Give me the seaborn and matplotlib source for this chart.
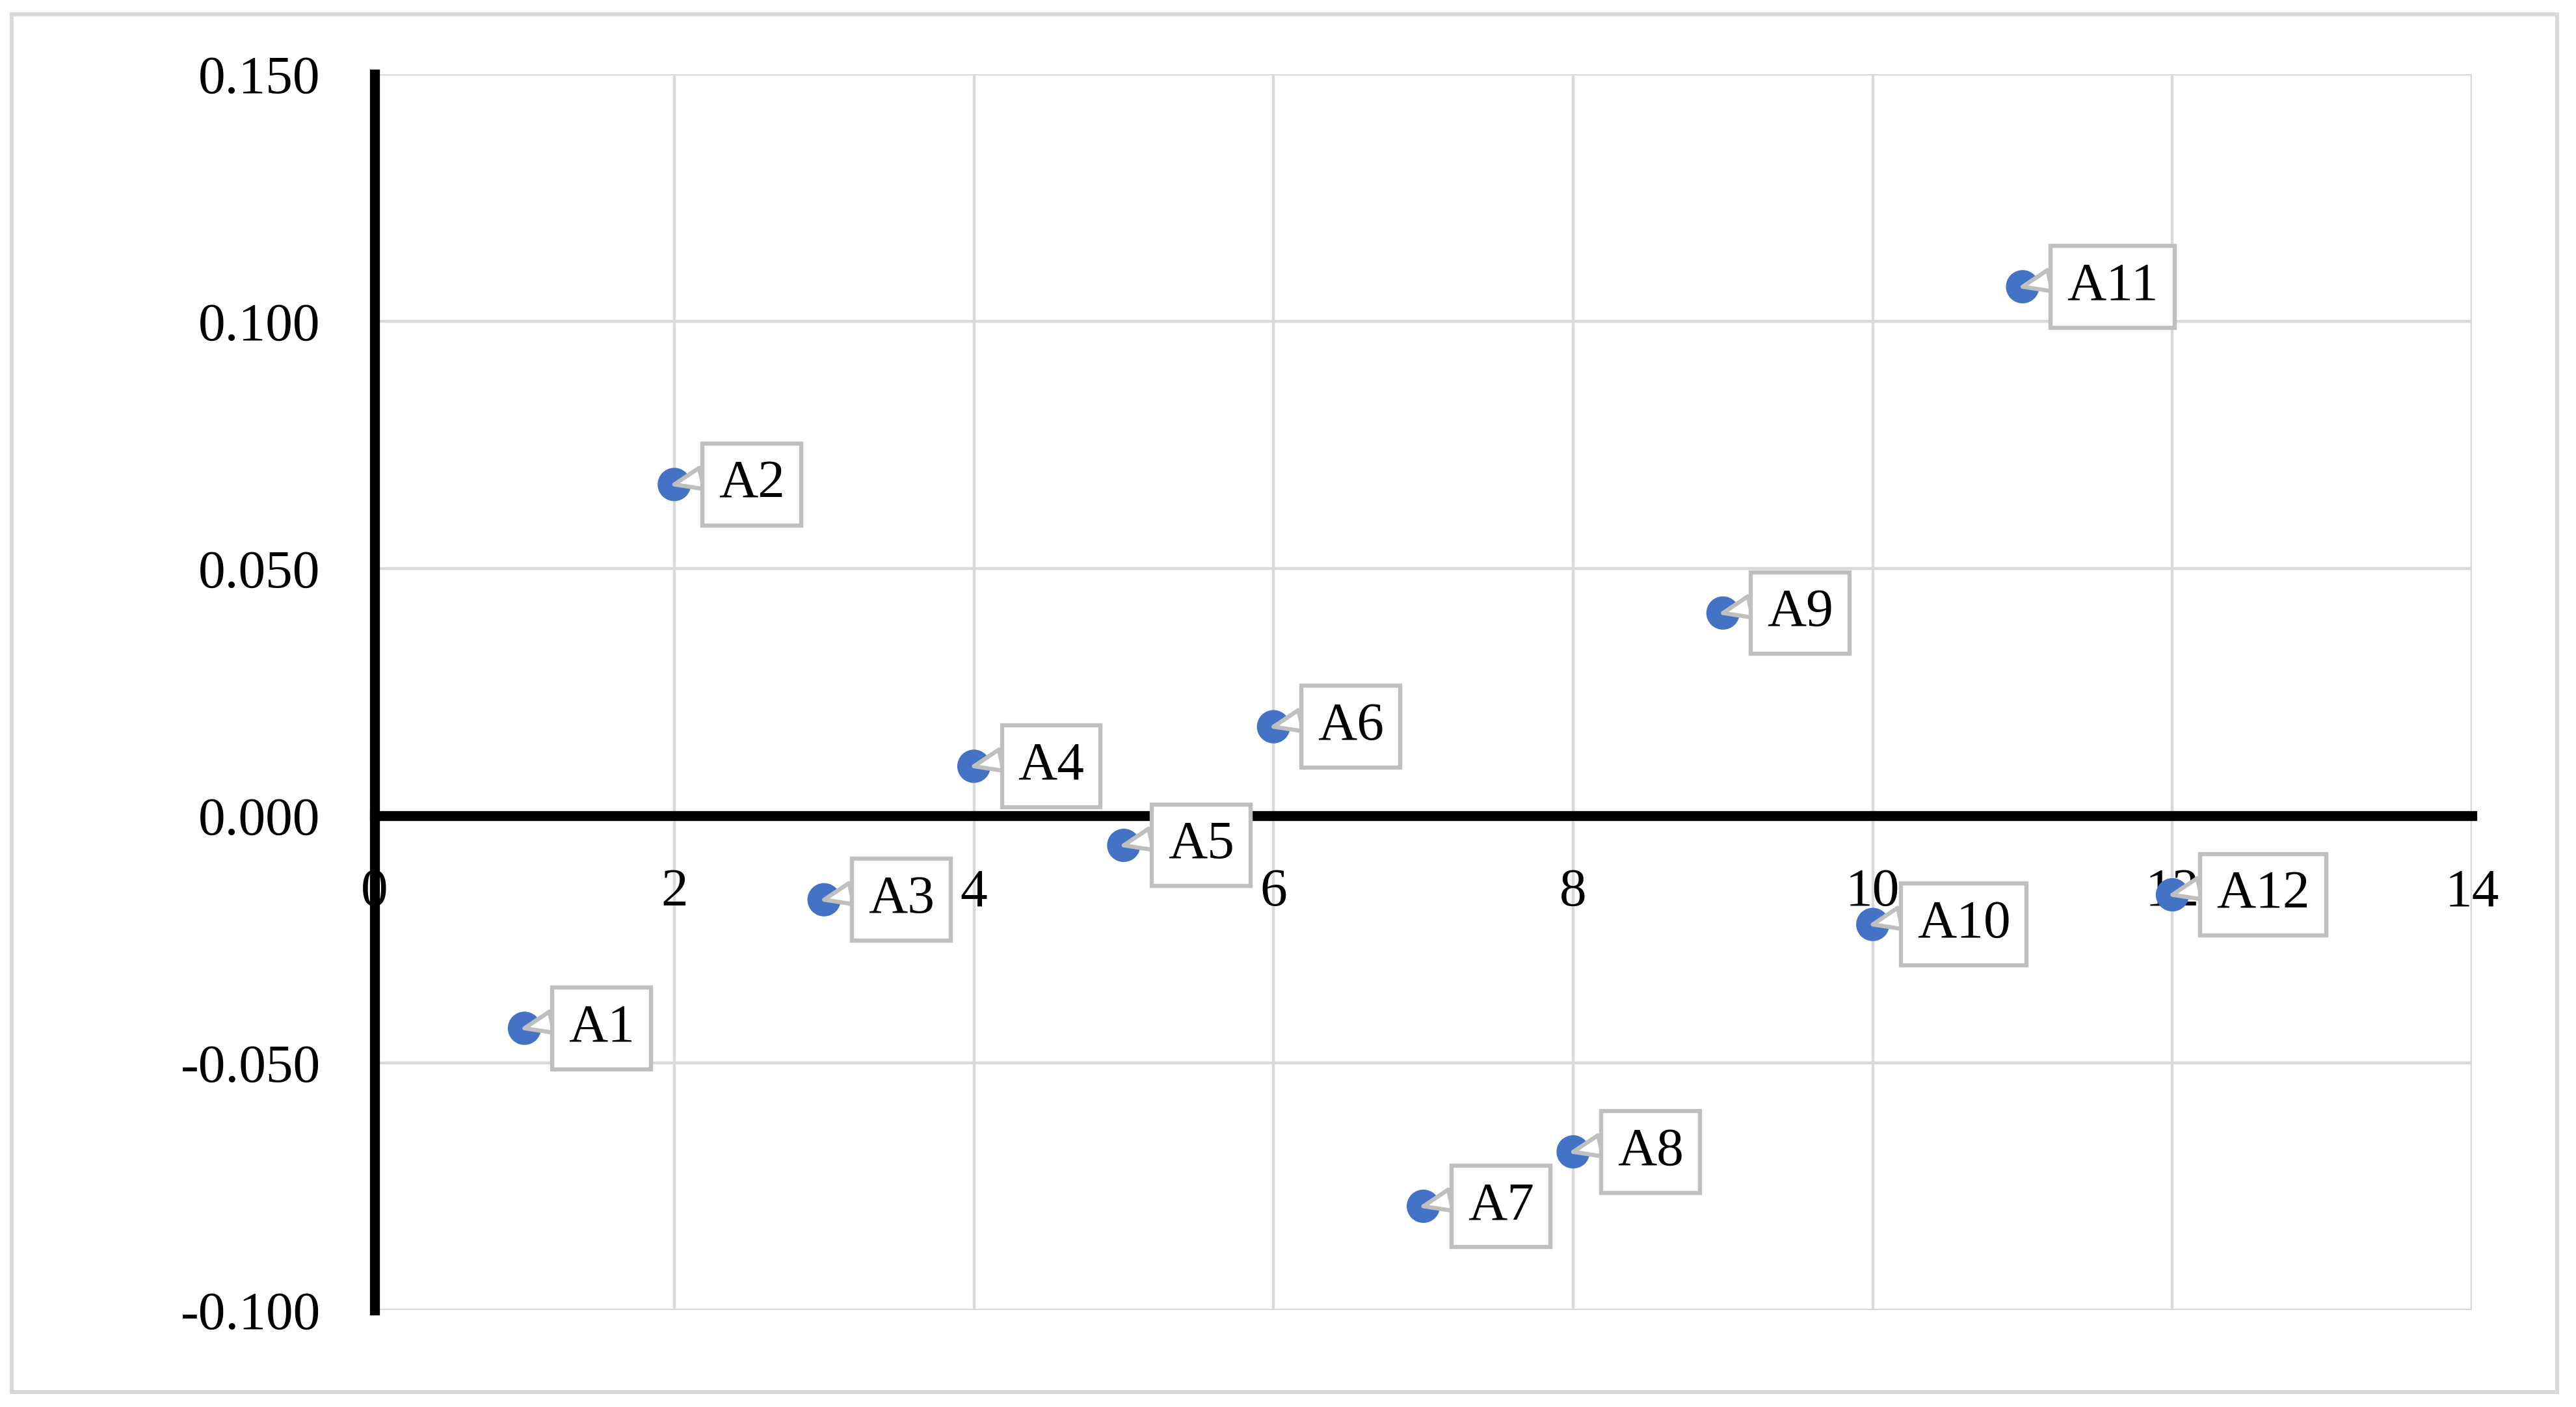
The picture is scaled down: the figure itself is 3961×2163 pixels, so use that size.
import pandas as pd
import seaborn as sns
import matplotlib.pyplot as plt
from matplotlib.patches import Rectangle

# values
labels = ['A1', 'A2', 'A3', 'A4', 'A5', 'A6', 'A7', 'A8', 'A9', 'A10', 'A11', 'A12']
x_vals = [1, 2, 3, 4, 5, 6, 7, 8, 9, 10, 11, 12]
y_vals = [-0.043, 0.067, -0.017, 0.010, -0.006, 0.018, -0.079, -0.068, 0.041, -0.022, 0.107, -0.016]

x_ticks = [0, 2, 4, 6, 8, 10, 12, 14]
y_ticks = [-0.100, -0.050, 0.000, 0.050, 0.100, 0.150]
y_tick_labels = ['-0.100', '-0.050', '0.000', '0.050', '0.100', '0.150']

df = pd.DataFrame({'label': labels, 'x': x_vals, 'y': y_vals})

sns.set_theme(style='white')
plt.rcParams['font.family'] = ['Liberation Serif', 'DejaVu Serif']
plt.rcParams['axes.unicode_minus'] = False

fig = plt.figure(figsize=(19.81, 10.815), dpi=200)
ax = fig.add_axes([0.1454, 0.0689, 0.8140, 0.8784])

# light outer frame around the whole chart
fig.patches.append(Rectangle((0.0045, 0.0108), 0.9880, 0.9790, transform=fig.transFigure,
                             fill=False, edgecolor='#d9d9d9', linewidth=2.2))

sns.scatterplot(data=df, x='x', y='y', color='#4472C4', s=340, edgecolor='none', ax=ax, zorder=2)

ax.set_xlim(0, 14)
ax.set_ylim(-0.1, 0.15)
ax.set_xticks(x_ticks)
ax.set_xticklabels([str(t) for t in x_ticks])
ax.set_yticks(y_ticks)
ax.set_yticklabels(y_tick_labels)
ax.set_xlabel('')
ax.set_ylabel('')

ax.grid(True, color='#d9d9d9', linewidth=1.6)
ax.set_axisbelow(True)

# axes cross at zero, drawn thick and black
ax.spines['bottom'].set_position(('data', 0))
for side in ['bottom', 'left']:
    ax.spines[side].set_color('black')
    ax.spines[side].set_linewidth(5.5)
for side in ['top', 'right']:
    ax.spines[side].set_visible(False)

ax.tick_params(axis='x', length=0, pad=29, labelsize=30, colors='black')
ax.tick_params(axis='y', length=0, pad=30, labelsize=30, colors='black')

# callout labels
for lab, xv, yv in zip(labels, x_vals, y_vals):
    ax.annotate(lab, xy=(xv, yv), xytext=(24.5, 0), textcoords='offset points',
                ha='left', va='center', fontsize=30, color='black', zorder=4,
                bbox=dict(boxstyle='square,pad=0.3', fc='white', ec='#bfbfbf', lw=2.3),
                arrowprops=dict(arrowstyle='wedge,tail_width=0.4', fc='white', ec='#bfbfbf',
                                lw=2.3, relpos=(0, 0.7), shrinkA=0, shrinkB=0))

fig.savefig('out.png', dpi=200, facecolor='white')
